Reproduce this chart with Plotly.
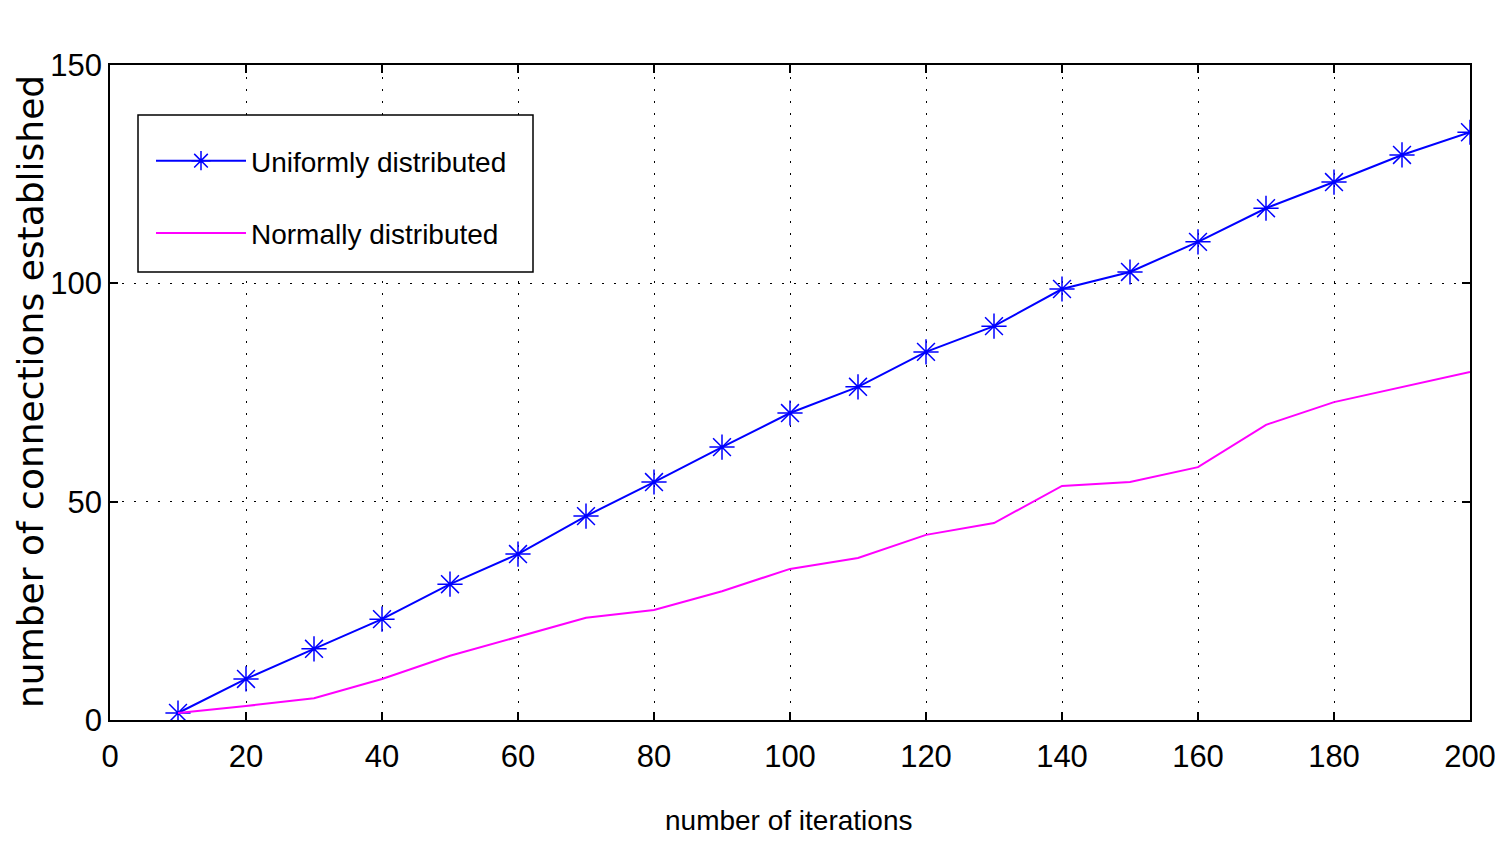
import plotly.graph_objects as go

iterations = [10, 20, 30, 40, 50, 60, 70, 80, 90, 100, 110, 120, 130, 140, 150, 160, 170, 180, 190, 200]
uniform = [1.6, 9.4, 16.3, 23.1, 31.1, 38.0, 46.7, 54.5, 62.5, 70.3, 76.3, 84.3, 90.2, 98.7, 102.6, 109.5, 117.2, 123.2, 129.4, 134.6]
normal = [1.6, 3.2, 5.0, 9.4, 14.7, 19.0, 23.4, 25.2, 29.5, 34.6, 37.1, 42.4, 45.1, 53.6, 54.5, 57.9, 67.6, 72.8, 76.3, 79.7]
x_ticks = [0, 20, 40, 60, 80, 100, 120, 140, 160, 180, 200]
y_ticks = [0, 50, 100, 150]

FONT = "Liberation Sans, Arial, sans-serif"
OFF = 8  # page body margin
W, H = 1503 - OFF, 842 - OFF
# target plot area on screen: x 110..1470, y 65..720
L = 110 - OFF
R = (OFF + W) - 1470
T = 65 - OFF
B = (OFF + H) - 720
PW, PH = W - L - R, H - T - B


def px(xs):
    return (xs - OFF - L) / PW


def py(ys):
    return (OFF + H - B - ys) / PH


fig = go.Figure()
fig.add_trace(go.Scatter(
    x=iterations, y=uniform, mode="lines+markers", name="Uniformly distributed",
    line=dict(color="#0000ff", width=2),
    marker=dict(symbol="asterisk-open", size=21, color="#0000ff", line=dict(color="#0000ff", width=1.5)),
    legendgroup="a",
))
fig.add_trace(go.Scatter(
    x=iterations, y=normal, mode="lines", name="Normally distributed",
    line=dict(color="#ff00ff", width=2),
    legendgroup="b",
))

axis_common = dict(
    showline=True, linecolor="black", linewidth=1.5, mirror="ticks",
    ticks="inside", ticklen=8, tickcolor="black", tickwidth=1.5,
    showgrid=True, gridcolor="black", gridwidth=1, griddash="2px,10px",
    zeroline=False, automargin=False,
    tickfont=dict(family=FONT, size=31, color="black"),
)

fig.update_xaxes(range=[0, 200], tickvals=x_ticks, ticklabelstandoff=8, **axis_common)
fig.update_yaxes(range=[0, 150], tickvals=y_ticks, **axis_common)

fig.add_annotation(
    text="number of iterations", xref="paper", yref="paper",
    x=px(788), y=py(820), showarrow=False,
    font=dict(family=FONT, size=28, color="black"), xanchor="center", yanchor="middle",
)
fig.add_annotation(
    text="number of connections established", xref="paper", yref="paper",
    x=px(30), y=py(392), showarrow=False, textangle=-90, borderpad=0,
    font=dict(family="DejaVu Sans", size=36, color="black"), xanchor="center", yanchor="middle",
)

# legend frame
fig.add_shape(
    type="rect", xref="paper", yref="paper",
    x0=px(138), x1=px(533), y0=py(272), y1=py(115),
    line=dict(color="black", width=1.5), fillcolor="white", layer="above",
)

fig.update_layout(
    width=W, height=H,
    margin=dict(l=L, r=R, t=T, b=B),
    plot_bgcolor="white", paper_bgcolor="white",
    showlegend=True,
    legend=dict(
        x=px(151), y=py(136), xanchor="left", yanchor="top",
        borderwidth=0, bgcolor="rgba(0,0,0,0)",
        font=dict(family=FONT, size=28, color="black"),
        traceorder="grouped", tracegroupgap=33, itemwidth=90,
    ),
)

fig.write_html("out.html")
